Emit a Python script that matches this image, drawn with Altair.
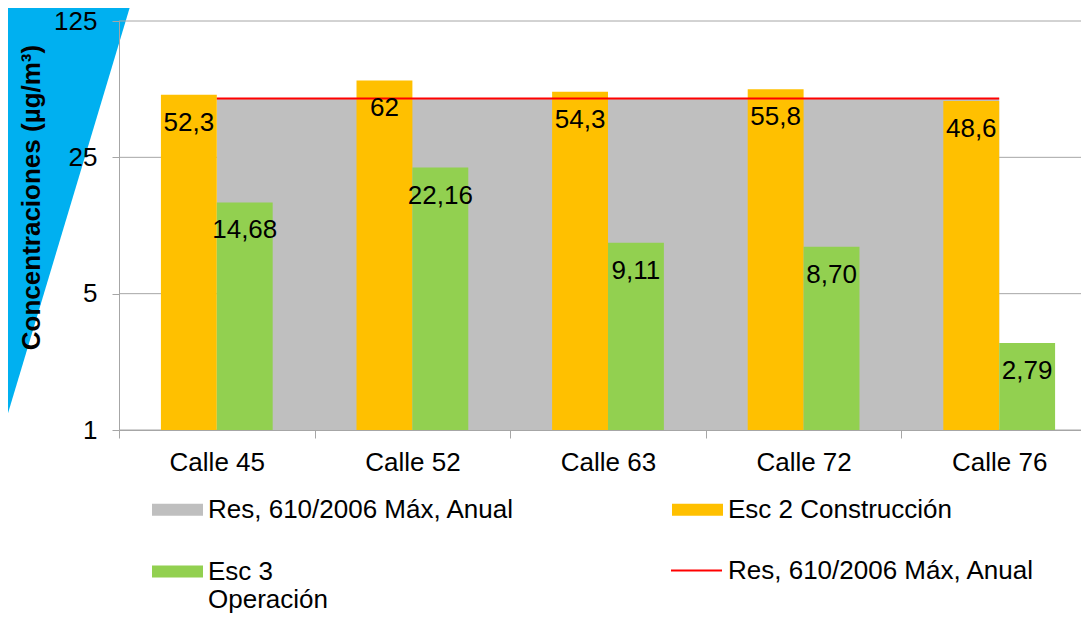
import altair as alt
import pandas as pd

# ---- data ----
calles = ['Calle 45', 'Calle 52', 'Calle 63', 'Calle 72', 'Calle 76']
esc2 = [52.3, 62.0, 54.3, 55.8, 48.6]
esc3 = [14.68, 22.16, 9.11, 8.70, 2.79]
esc2_labels = ['52,3', '62', '54,3', '55,8', '48,6']
esc3_labels = ['14,68', '22,16', '9,11', '8,70', '2,79']
limite = [50, 50, 50, 50, 50]
y_ticks = [1, 5, 25, 125]

serie_lim = 'Res, 610/2006 Máx, Anual'
serie_esc2 = 'Esc 2 Construcción'
serie_esc3 = 'Esc 3 Operación'

df_lim = pd.DataFrame({'calle': calles, 'valor': limite, 'serie': [serie_lim] * len(calles)})
df_bars = pd.DataFrame({
    'calle': calles + calles,
    'serie': [serie_esc2] * len(calles) + [serie_esc3] * len(calles),
    'valor': esc2 + esc3,
    'label': esc2_labels + esc3_labels,
})
df_grid = pd.DataFrame({'v': y_ticks})

# ---- decorative slide triangle (pixel geometry, not data) ----
deco = pd.DataFrame({'px': [-119, 13], 'top': [-21, -21], 'bot': [419, -21]})

FONT = 'Liberation Sans'
W, H = 962, 409
XR = 978
GRID = '#A6A6A6'

x_axis = alt.Axis(title=None, labelAngle=0, labelFont=FONT, labelFontSize=26, labelColor='#000000',
                  labelPadding=11, tickSize=8, tickBand='extent', tickColor=GRID, domainColor=GRID,
                  grid=False, zindex=1)
y_axis = alt.Axis(title='Concentraciones (µg/m³)', values=y_ticks, format='d', grid=False,
                  labelFont=FONT, labelFontSize=26, labelColor='#000000', labelPadding=15,
                  tickSize=7, tickColor=GRID, domainColor=GRID,
                  titleFont=FONT, titleFontSize=26, titleFontWeight='bold', titleColor='#000000',
                  titleAngle=270, titleAlign='center', titleBaseline='middle', titleX=-88, titleY=176,
                  zindex=1)

x_enc = alt.X('calle:N', sort=calles, scale=alt.Scale(range=[0, XR], paddingInner=0, paddingOuter=0), axis=x_axis)
y_scale = alt.Scale(type='log', base=5, domain=[1, 125], nice=False)

fill_scale = alt.Scale(domain=[serie_lim, serie_esc2, serie_esc3], range=['#BFBFBF', '#FFC000', '#92D050'])
fill_legend = alt.Legend(title=None, orient='none', legendX=33, legendY=463, direction='horizontal',
                         columns=2, columnPadding=157, rowPadding=23, padding=0,
                         symbolType='M-1,-0.235H1V0.235H-1Z', symbolSize=2601,
                         symbolStrokeWidth=0, labelFont=FONT, labelFontSize=26, labelColor='#000000',
                         labelOffset=5, labelLimit=1000, labelBaseline='middle',
                         labelExpr="datum.label == 'Esc 3 Operación' ? ['Esc 3', 'Operación'] : datum.label")
stroke_legend = alt.Legend(title=None, orient='none', legendX=551, legendY=523, padding=0,
                           symbolType='stroke', symbolSize=2601, symbolStrokeWidth=2,
                           labelFont=FONT, labelFontSize=26, labelColor='#000000', labelOffset=5,
                           labelLimit=1000, labelBaseline='middle')

grid = alt.Chart(df_grid).mark_rule(color=GRID, strokeWidth=1).encode(
    y=alt.Y('v:Q', scale=y_scale, axis=y_axis))

area = alt.Chart(df_lim).mark_area(opacity=1).encode(
    x=x_enc,
    y=alt.Y('valor:Q', scale=y_scale, axis=y_axis),
    y2=alt.datum(1),
    fill=alt.Fill('serie:N', scale=fill_scale, legend=fill_legend))

xoff = alt.XOffset('serie:N', scale=alt.Scale(domain=[serie_esc2, serie_esc3], paddingOuter=0.75, paddingInner=0))

bars = alt.Chart(df_bars).mark_bar(strokeWidth=0).encode(
    x=x_enc, xOffset=xoff,
    y=alt.Y('valor:Q', scale=y_scale, axis=y_axis),
    y2=alt.datum(1),
    fill=alt.Fill('serie:N', scale=fill_scale, legend=fill_legend))

line = alt.Chart(df_lim).mark_line(strokeWidth=2).encode(
    x=x_enc,
    y=alt.Y('valor:Q', scale=y_scale, axis=y_axis),
    stroke=alt.Stroke('serie:N', scale=alt.Scale(domain=[serie_lim], range=['#FF0000']), legend=stroke_legend))

text = alt.Chart(df_bars).mark_text(font=FONT, fontSize=26, color='#000000', baseline='middle', dy=28).encode(
    x=x_enc, xOffset=xoff,
    y=alt.Y('valor:Q', scale=y_scale, axis=y_axis),
    text='label:N')

main = alt.layer(grid, area, bars, line, text)

tri = alt.Chart(deco).mark_area(color='#00B0F0', opacity=1).encode(
    x=alt.X('px:Q', scale=alt.Scale(domain=[0, W], range=[0, W], nice=False, zero=False), axis=None),
    y=alt.Y('top:Q', scale=alt.Scale(domain=[0, H], range=[0, H], nice=False, zero=False), axis=None),
    y2='bot:Q')

chart = alt.layer(tri, main).resolve_scale(x='independent', y='independent').properties(
    width=W, height=H,
    autosize=alt.AutoSizeParams(type='none'),
    padding={'left': 111, 'top': 13, 'right': 0, 'bottom': 185},
    background='white',
).configure_view(strokeWidth=0)

chart.save('out.html', embed_options={'renderer': 'svg', 'actions': False})
